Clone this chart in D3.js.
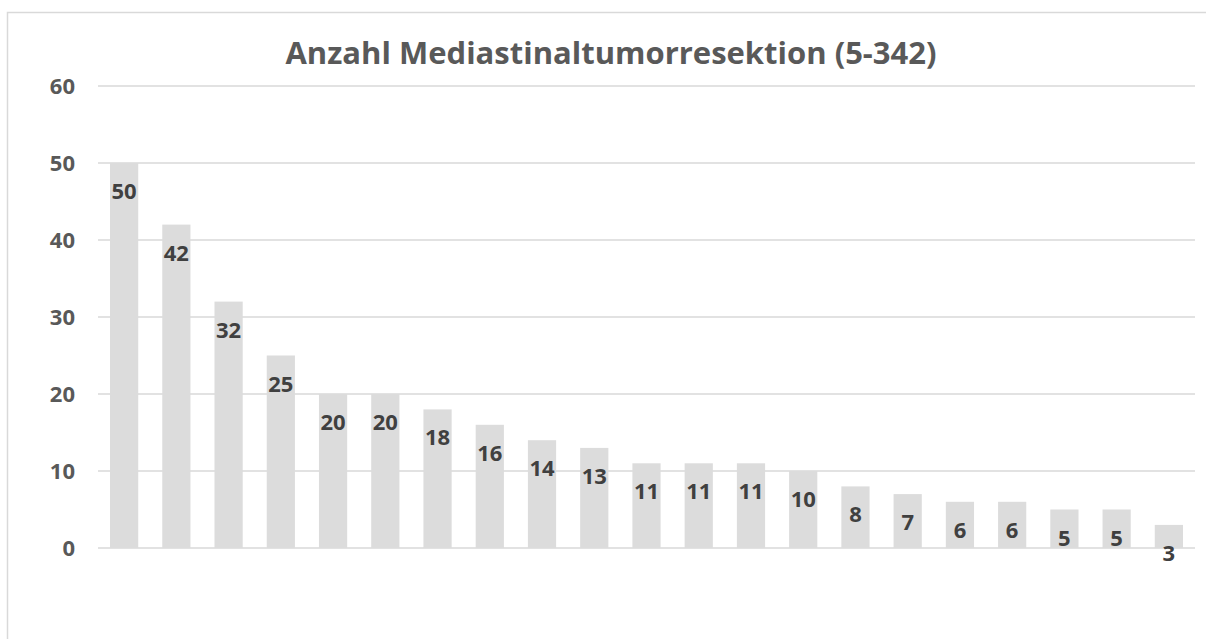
<!DOCTYPE html>
<html>
<head>
<meta charset="utf-8">
<script src="https://cdn.jsdelivr.net/npm/d3@7"></script>
<style>
  body { margin: 0; background: #fff; overflow: hidden; }
  text { font-family: "Open Sans", "Liberation Sans", sans-serif; font-weight: bold; fill: #595959; }
</style>
</head>
<body>
<div id="chart"></div>
<script>
// data
var titleText = "Anzahl Mediastinaltumorresektion (5-342)";
var categories = d3.range(1, 22).map(function (i) { return "K" + i; });
var counts = [50, 42, 32, 25, 20, 20, 18, 16, 14, 13, 11, 11, 11, 10, 8, 7, 6, 6, 5, 5, 3];
var yTicks = [0, 10, 20, 30, 40, 50, 60];

var width = 1206, height = 639;
var margin = {top: 86, right: 11, bottom: 91, left: 98};
var plotW = width - margin.left - margin.right,
    plotH = height - margin.top - margin.bottom;

var svg = d3.select("#chart")
  .append("svg")
    .attr("width", width)
    .attr("height", height)
    .style("display", "block");

// chart frame: only the top and left edges are inside the picture
svg.append("path")
  .attr("d", d3.line()([[7.5, height], [7.5, 12.5], [width, 12.5]]))
  .style("fill", "none")
  .style("stroke", "#d9d9d9")
  .style("stroke-width", 1.5);

svg.append("text")
  .attr("x", 611)
  .attr("y", 64)
  .style("text-anchor", "middle")
  .style("font-size", "31px")
  .text(titleText);

var g = svg.append("g")
  .attr("transform", "translate(" + margin.left + "," + margin.top + ")");

var x = d3.scaleBand()
  .domain(categories)
  .range([0, plotW])
  .paddingInner(0.46)
  .paddingOuter(0.23);

var y = d3.scaleLinear()
  .domain([0, 60])
  .range([plotH, 0]);

// gridlines
g.append("g")
  .selectAll("line")
  .data(yTicks)
  .enter()
  .append("line")
    .attr("x1", 0)
    .attr("x2", plotW)
    .attr("y1", function (d) { return y(d); })
    .attr("y2", function (d) { return y(d); })
    .style("stroke", "#d9d9d9")
    .style("stroke-width", 1.5);

// y axis labels
var yAxis = g.append("g")
  .call(d3.axisLeft(y).tickValues(yTicks).tickSize(0).tickPadding(23));
yAxis.select(".domain").remove();
yAxis.selectAll("text")
  .style("font-size", "22px")
  .style("font-family", null)
  .attr("fill", null);

var bars = g.selectAll(".bar")
  .data(counts)
  .enter()
  .append("g")
    .attr("class", "bar");

bars.append("rect")
  .attr("x", function (d, i) { return x(categories[i]); })
  .attr("y", function (d) { return y(d); })
  .attr("width", x.bandwidth())
  .attr("height", function (d) { return plotH - y(d); })
  .style("fill", "#dcdcdc");

bars.append("text")
  .attr("x", function (d, i) { return x(categories[i]) + x.bandwidth() / 2; })
  .attr("y", function (d) { return y(d) + 36; })
  .style("text-anchor", "middle")
  .style("font-size", "22px")
  .style("fill", "#404040")
  .text(function (d) { return d; });
</script>
</body>
</html>
